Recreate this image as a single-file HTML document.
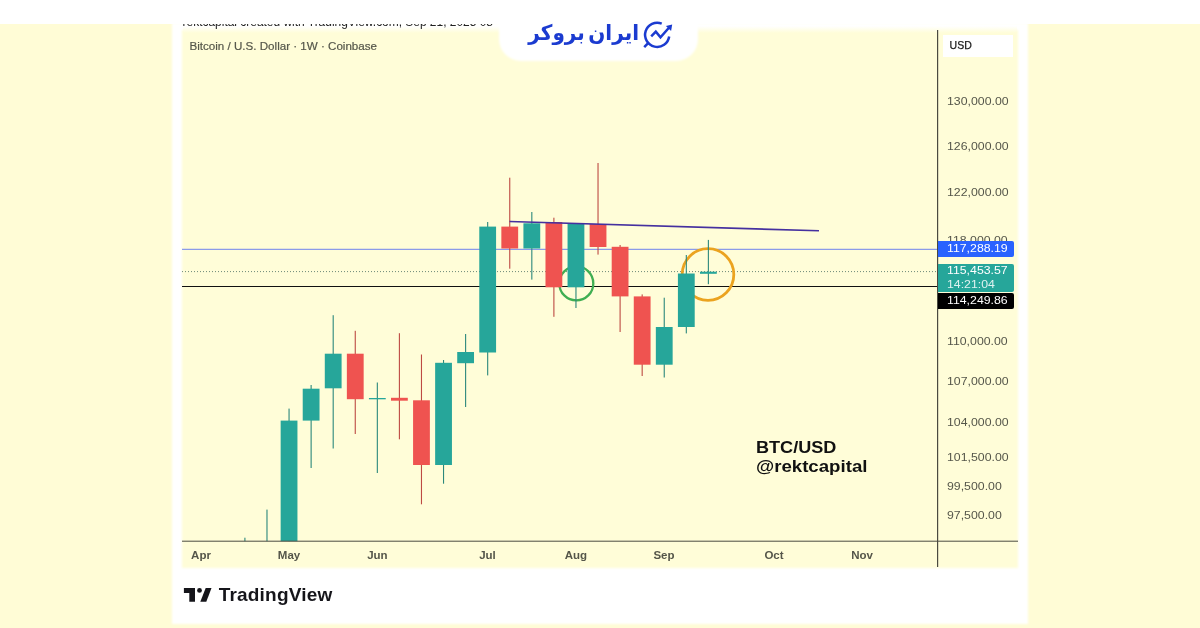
<!DOCTYPE html>
<html lang="fa">
<head>
<meta charset="utf-8">
<title>BTC/USD</title>
<style>
html,body{margin:0;padding:0;}
body{width:1200px;height:628px;overflow:hidden;background:#fffcd6;font-family:"Liberation Sans",sans-serif;position:relative;}
.abs{position:absolute;}
#topband{left:0;top:0;width:1200px;height:23.5px;background:#fff;}
#panel{left:172px;top:23px;width:856px;height:600.5px;background:#fff;filter:blur(0.8px);}
#chart{left:182px;top:30px;width:836px;height:537.5px;background:#fffdd8;filter:blur(1px);}
#chartfade{left:183px;top:26px;width:834px;height:7px;background:linear-gradient(#fff,#fffdd8);}
#cut{left:182.6px;top:24px;width:311px;height:5.5px;overflow:hidden;}
#cut span{position:absolute;left:0;top:-9.3px;font-size:11.95px;line-height:15px;color:#222;white-space:nowrap;}
#tab{left:498.5px;top:-10px;width:199.5px;height:70.5px;background:#fff;border-radius:0 0 22px 22px;filter:blur(1px);}
#brand{left:519px;top:13px;word-spacing:-3.5px;transform:scaleY(1.07);transform-origin:100% 65%;width:120px;height:40px;text-align:right;direction:rtl;font-family:"DejaVu Sans",sans-serif;font-weight:bold;font-size:20px;line-height:40px;color:#1b3bd0;white-space:nowrap;}
#title{left:189.5px;top:38.4px;font-size:11.6px;-webkit-text-stroke:0.2px #55564a;line-height:16px;color:#55564a;white-space:nowrap;}
.pl{position:absolute;left:946.6px;font-size:11.2px;transform:scaleX(1.1);transform-origin:0 50%;line-height:16px;color:#55564a;white-space:nowrap;}
.ml{position:absolute;top:546.9px;width:40px;text-align:center;font-size:11.5px;line-height:16px;font-weight:bold;color:#55564a;white-space:nowrap;}
#usd{left:943px;top:34.8px;width:70px;height:22.2px;background:#fff;font-size:10.5px;-webkit-text-stroke:0.25px #1a1a1a;line-height:21.6px;color:#1a1a1a;}
#usd span{padding-left:6.6px;}
.tag{position:absolute;left:937.6px;width:76.4px;border-radius:0 2px 2px 0;color:#fff;font-size:11.2px;white-space:nowrap;}
.tag span{display:block;margin-left:9.4px;transform:scaleX(1.1);transform-origin:0 50%;}
.note{left:755.8px;font-weight:bold;font-size:16px;line-height:19px;color:#111;white-space:nowrap;transform-origin:0 0;}
#tvtext{left:218.7px;top:583px;font-weight:bold;font-size:19px;letter-spacing:0.2px;line-height:24px;color:#15151a;white-space:nowrap;}
</style>
</head>
<body>
<div id="topband" class="abs"></div>
<div id="panel" class="abs"></div>
<div id="chart" class="abs"></div>
<div id="chartfade" class="abs"></div>
<div id="cut" class="abs"><span>rektcapital created with TradingView.com, Sep 21, 2025 08</span></div>
<div id="title" class="abs">Bitcoin / U.S. Dollar · 1W · Coinbase</div>
<svg class="abs" style="left:0;top:0" width="1200" height="628" viewBox="0 0 1200 628">
<line x1="182" y1="249.3" x2="938" y2="249.3" stroke="#6f82ee" stroke-width="1"/>
<line x1="182" y1="271.6" x2="938" y2="271.6" stroke="#6c8878" stroke-width="1" stroke-dasharray="1 2"/>
<line x1="182" y1="286.5" x2="938" y2="286.5" stroke="#111" stroke-width="1.1"/>
<circle cx="576.3" cy="283.4" r="17" fill="none" stroke="#3fae52" stroke-width="2.3"/>
<circle cx="708" cy="274.5" r="25.8" fill="none" stroke="#eba31f" stroke-width="2.8"/>
<rect x="244.36" y="537.7" width="1.1" height="3.5" fill="#2c887c"/>
<rect x="266.43" y="509.6" width="1.1" height="31.6" fill="#2c887c"/>
<rect x="288.50" y="408.6" width="1.1" height="132.6" fill="#2c887c"/>
<rect x="280.65" y="420.6" width="16.8" height="120.6" fill="#26a69a"/>
<rect x="310.57" y="385.0" width="1.1" height="83.0" fill="#2c887c"/>
<rect x="302.72" y="388.7" width="16.8" height="31.9" fill="#26a69a"/>
<rect x="332.64" y="315.2" width="1.1" height="133.3" fill="#2c887c"/>
<rect x="324.79" y="353.7" width="16.8" height="34.6" fill="#26a69a"/>
<rect x="354.71" y="330.8" width="1.1" height="103.2" fill="#bd4a43"/>
<rect x="346.86" y="353.7" width="16.8" height="45.5" fill="#ef5350"/>
<rect x="376.78" y="382.5" width="1.1" height="90.5" fill="#2c887c"/>
<rect x="368.93" y="398.0" width="16.8" height="1.3" fill="#26a69a"/>
<rect x="398.85" y="333.2" width="1.1" height="106.1" fill="#bd4a43"/>
<rect x="391.00" y="397.8" width="16.8" height="2.9" fill="#ef5350"/>
<rect x="420.92" y="354.5" width="1.1" height="149.8" fill="#bd4a43"/>
<rect x="413.07" y="400.3" width="16.8" height="64.7" fill="#ef5350"/>
<rect x="442.99" y="360.0" width="1.1" height="123.7" fill="#2c887c"/>
<rect x="435.14" y="362.8" width="16.8" height="102.2" fill="#26a69a"/>
<rect x="465.06" y="334.0" width="1.1" height="73.0" fill="#2c887c"/>
<rect x="457.21" y="352.0" width="16.8" height="11.2" fill="#26a69a"/>
<rect x="487.13" y="222.0" width="1.1" height="153.4" fill="#2c887c"/>
<rect x="479.28" y="226.6" width="16.8" height="125.9" fill="#26a69a"/>
<rect x="509.20" y="177.7" width="1.1" height="91.0" fill="#bd4a43"/>
<rect x="501.35" y="226.6" width="16.8" height="21.9" fill="#ef5350"/>
<rect x="531.27" y="212.0" width="1.1" height="67.6" fill="#2c887c"/>
<rect x="523.42" y="223.3" width="16.8" height="25.2" fill="#26a69a"/>
<rect x="553.34" y="217.7" width="1.1" height="99.1" fill="#bd4a43"/>
<rect x="545.49" y="222.0" width="16.8" height="65.3" fill="#ef5350"/>
<rect x="575.41" y="223.3" width="1.1" height="84.7" fill="#2c887c"/>
<rect x="567.56" y="223.3" width="16.8" height="64.0" fill="#26a69a"/>
<rect x="597.48" y="163.0" width="1.1" height="91.6" fill="#bd4a43"/>
<rect x="589.63" y="224.0" width="16.8" height="23.0" fill="#ef5350"/>
<rect x="619.55" y="245.0" width="1.1" height="87.0" fill="#bd4a43"/>
<rect x="611.70" y="246.8" width="16.8" height="49.6" fill="#ef5350"/>
<rect x="641.62" y="294.4" width="1.1" height="81.6" fill="#bd4a43"/>
<rect x="633.77" y="296.4" width="16.8" height="68.3" fill="#ef5350"/>
<rect x="663.69" y="297.7" width="1.1" height="79.8" fill="#2c887c"/>
<rect x="655.84" y="327.0" width="16.8" height="37.7" fill="#26a69a"/>
<rect x="685.76" y="255.0" width="1.1" height="78.4" fill="#2c887c"/>
<rect x="677.91" y="273.5" width="16.8" height="53.5" fill="#26a69a"/>
<rect x="707.83" y="239.9" width="1.1" height="44.3" fill="#2c887c"/>
<rect x="699.98" y="271.7" width="16.8" height="2.1" fill="#26a69a"/>
<line x1="509.5" y1="221.5" x2="819" y2="230.8" stroke="#45309f" stroke-width="1.6"/>
<line x1="182" y1="541.2" x2="1018" y2="541.2" stroke="#4a4a40" stroke-width="1"/>
<line x1="937.6" y1="30" x2="937.6" y2="567" stroke="#4a4a40" stroke-width="1.2"/>
</svg>
<div class="pl" style="top:93.0px">130,000.00</div>
<div class="pl" style="top:138.3px">126,000.00</div>
<div class="pl" style="top:184.2px">122,000.00</div>
<div class="pl" style="top:231.9px">118,000.00</div>
<div class="pl" style="top:333.4px">110,000.00</div>
<div class="pl" style="top:373.4px">107,000.00</div>
<div class="pl" style="top:414.4px">104,000.00</div>
<div class="pl" style="top:449.3px">101,500.00</div>
<div class="pl" style="top:477.8px">99,500.00</div>
<div class="pl" style="top:507.2px">97,500.00</div>
<div class="ml" style="left:181.0px">Apr</div>
<div class="ml" style="left:269.0px">May</div>
<div class="ml" style="left:357.4px">Jun</div>
<div class="ml" style="left:467.5px">Jul</div>
<div class="ml" style="left:555.9px">Aug</div>
<div class="ml" style="left:644.0px">Sep</div>
<div class="ml" style="left:754.0px">Oct</div>
<div class="ml" style="left:842.0px">Nov</div>
<div id="usd" class="abs"><span>USD</span></div>
<div class="tag" style="top:241px;height:15.6px;line-height:14.6px;background:#2962ff"><span>117,288.19</span></div>
<div class="tag" style="top:264px;height:28.4px;line-height:13.5px;background:#26a69a"><span>115,453.57</span><span style="opacity:.85">14:21:04</span></div>
<div class="tag" style="top:293px;height:15.5px;line-height:15.5px;background:#000"><span>114,249.86</span></div>
<div class="abs note" style="top:437.8px;transform:scaleX(1.13)">BTC/USD</div>
<div class="abs note" style="top:456.8px;transform:scaleX(1.165)">@rektcapital</div>
<div id="tab" class="abs"></div>
<div id="brand" class="abs">ایران بروکر</div>
<svg class="abs" style="left:640px;top:18px" width="36" height="34" viewBox="640 18 36 34">
<g fill="none" stroke="#1b3bd0" stroke-width="2.5" stroke-linecap="butt">
<path d="M661.73 23.58 A12.1 12.1 0 1 0 669.18 36.48"/>
<path d="M648.6 42.6 L644.2 47.2"/>
<path d="M651.2 36.4 L655.8 31.7 L660.5 37.4 L668.7 28" stroke-linejoin="miter"/>
</g>
<path d="M672.2 24.6 L665.9 25.9 L671.1 31 Z" fill="#1b3bd0"/>
</svg>
<svg class="abs" style="left:182px;top:586px" width="32" height="18" viewBox="182 586 32 18">
<path d="M183.9 588 H195 V601.7 H189.3 V592.9 H183.9 Z" fill="#15151a"/>
<circle cx="199.5" cy="590.4" r="2.4" fill="#15151a"/>
<path d="M205.7 588 H211.5 L206.3 601.7 H200.3 Z" fill="#15151a"/>
</svg>
<div id="tvtext" class="abs">TradingView</div>
</body>
</html>
